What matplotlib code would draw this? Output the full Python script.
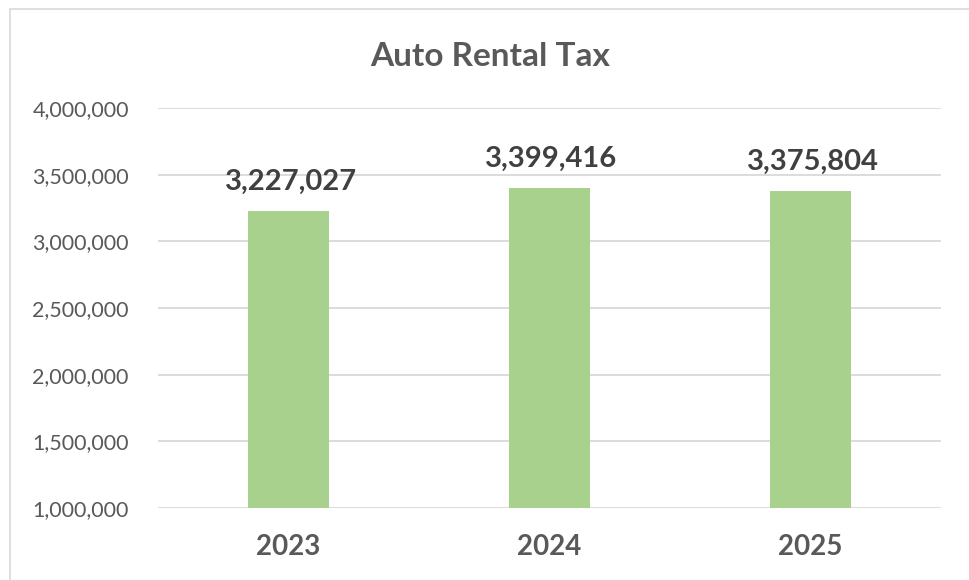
import matplotlib.pyplot as plt
from matplotlib.patches import Rectangle
from matplotlib.ticker import FuncFormatter

years = ['2023', '2024', '2025']
revenue = [3227027, 3399416, 3375804]
yticks = [1000000, 1500000, 2000000, 2500000, 3000000, 3500000, 4000000]

plt.rcParams['font.family'] = ['Lato', 'DejaVu Sans']

fig = plt.figure(figsize=(9.69, 5.80), dpi=100)
ax = fig.add_axes([158/969, 1-508/580, (941-158)/969, 400/580])

# light frame round the chart like excel
fig.patches.append(Rectangle((10/969, -0.2), 1.2, 1.2 - 9/580, transform=fig.transFigure,
                             fill=False, edgecolor='#D9D9D9', linewidth=1.2))

x = range(len(years))
bars = ax.bar(x, revenue, width=0.314, color='#A9D18E', zorder=3)

for b, v in zip(bars, revenue):
    ax.annotate(f'{v:,}', (b.get_x() + b.get_width()/2, v), xytext=(1.5, 11.5),
                textcoords='offset points', ha='center', va='bottom',
                fontsize=21, fontweight='bold', color='#404040')

ax.set_xlim(-0.5, 2.5)
ax.set_ylim(1000000, 4000000)
ax.set_yticks(yticks)
ax.yaxis.set_major_formatter(FuncFormatter(lambda v, p: f'{int(v):,}'))
ax.set_xticks(list(x))
ax.set_xticklabels(years, fontsize=20, fontweight='bold', color='#595959')
ax.tick_params(axis='y', length=0, pad=21, labelsize=15.5, labelcolor='#595959')
ax.tick_params(axis='x', length=0, pad=19)
ax.grid(axis='y', color='#D9D9D9', linewidth=1.3, zorder=0)
for s in ax.spines.values():
    s.set_visible(False)

fig.text(490/969, 1-66/580, 'Auto Rental Tax', ha='center', va='baseline',
         fontsize=24, fontweight='bold', color='#595959')

fig.savefig('out.png', dpi=100)
